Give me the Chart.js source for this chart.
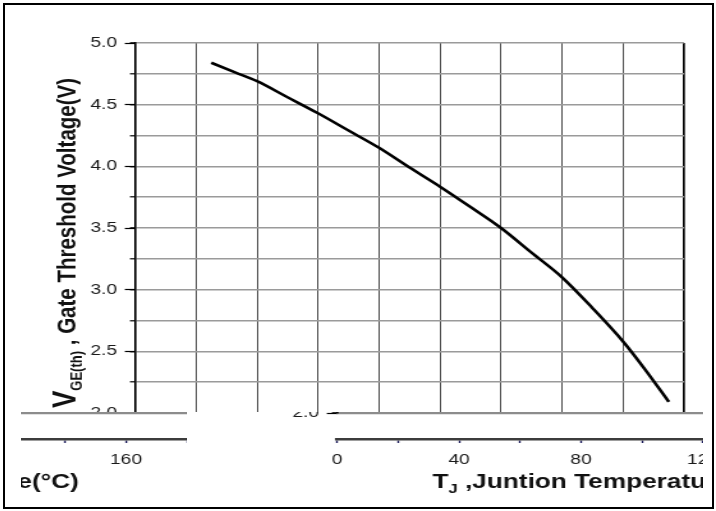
<!DOCTYPE html>
<html>
<head>
<meta charset="utf-8">
<script src="https://cdn.jsdelivr.net/npm/chart.js@4.4.1/dist/chart.umd.min.js"></script>
<style>
  body { margin: 0; background: #fff; width: 716px; height: 511px; overflow: hidden; position: relative; }
  .clip { position: absolute; overflow: hidden; }
  .st { position: absolute; width: 560px; height: 511px; transform: scaleX(1.2786); transform-origin: 0 0; }
  #frame { position: absolute; left: 3px; top: 3px; width: 711px; height: 506px; border: 2px solid #000; box-sizing: border-box; z-index: 5; }
</style>
</head>
<body>
<div class="clip" style="left:0;top:0;width:716px;height:412px">
  <div class="st" style="left:0;top:0"><canvas id="c1" width="560" height="511"></canvas></div>
</div>
<div class="clip" style="left:186px;top:412px;width:517px;height:94px">
  <div class="st" style="left:16px;top:-412px"><canvas id="c2" width="560" height="511"></canvas></div>
</div>
<div class="clip" style="left:21px;top:412px;width:166px;height:94px">
  <div class="st" style="left:-518px;top:-412px"><canvas id="c3" width="560" height="511"></canvas></div>
</div>
<div id="frame"></div>
<script>
// junction temperature (°C) and gate threshold voltage (V)
const tempC = [25, 33, 40, 50, 60, 70, 80, 90, 100, 110, 120, 130, 140, 150, 160, 167, 175];
const vth = [4.84, 4.76, 4.69, 4.56, 4.43, 4.29, 4.15, 3.99, 3.835, 3.67, 3.50, 3.30, 3.10, 2.85, 2.58, 2.36, 2.09];

const xRange = [0, 180];
const yRange = [2.0, 5.0];
const xStep = 20;
const yStep = 0.25;

const FONT = '"Liberation Sans", Arial, sans-serif';
Chart.defaults.font.family = FONT;

// axis titles with subscripts
const titles = {
  id: 'titles',
  afterDraw(chart) {
    const ctx = chart.ctx;
    const area = chart.chartArea;
    const x2 = chart.scales.x2;

    const xp = [['T', 'bold 20.5px ' + FONT, 0], ['J', 'bold 13px ' + FONT, 5], [' ,Juntion Temperature(°C)', 'bold 20.5px ' + FONT, 0]];
    ctx.save();
    ctx.fillStyle = '#111';
    ctx.textBaseline = 'alphabetic';
    let w = 0;
    xp.forEach(p => { ctx.font = p[1]; w += ctx.measureText(p[0]).width; });
    let x = (x2.left + x2.right) / 2 - w / 2 - 5;
    const base = x2.top + 49;
    xp.forEach(p => {
      ctx.font = p[1];
      ctx.fillText(p[0], x, base + p[2]);
      x += ctx.measureText(p[0]).width;
    });
    ctx.restore();

    const yp = [['V', 'bold 26px ' + FONT, 0], ['GE(th)', 'bold 13px ' + FONT, 5], [' , Gate Threshold Voltage(V)', 'bold 20.5px ' + FONT, 0]];
    ctx.save();
    ctx.fillStyle = '#111';
    ctx.translate(58.5, area.bottom - 5);
    ctx.rotate(-Math.PI / 2);
    let t = 0;
    yp.forEach(p => {
      ctx.font = p[1];
      ctx.fillText(p[0], t, p[2]);
      t += ctx.measureText(p[0]).width;
    });
    ctx.restore();
  }
};

function makeChart(id) {
  return new Chart(document.getElementById(id), {
    type: 'line',
    data: {
      datasets: [{
        data: tempC.map((t, i) => ({ x: t, y: vth[i] })),
        borderColor: '#000',
        borderWidth: 2.6,
        pointRadius: 0,
        cubicInterpolationMode: 'monotone',
        xAxisID: 'x',
        yAxisID: 'y'
      }]
    },
    options: {
      responsive: false,
      animation: false,
      devicePixelRatio: 1,
      layout: { padding: { left: 0, top: 43, right: 25, bottom: 0 } },
      plugins: { legend: { display: false }, tooltip: { enabled: false } },
      scales: {
        x: {
          type: 'linear', position: 'bottom', weight: 0,
          min: xRange[0], max: xRange[1],
          ticks: { display: false, stepSize: xStep },
          grid: {
            drawTicks: false,
            color: c => c.tick && c.tick.value === xRange[1] ? '#000' : '#3a3a3a',
            lineWidth: c => c.tick && c.tick.value === xRange[1] ? 1.7 : 0.9
          },
          border: { display: true, color: '#8c8c8c', width: 2.2 },
          afterFit: s => { s.height = 26; }
        },
        x2: {
          type: 'linear', position: 'bottom', weight: 1,
          min: xRange[0], max: xRange[1],
          ticks: {
            stepSize: xStep, autoSkip: false, maxRotation: 0,
            color: '#1a1a1a', font: { size: 15 }, padding: 8,
            callback: v => (v % 40 === 0 ? String(v) : '')
          },
          grid: { drawOnChartArea: false, drawTicks: true, tickLength: 4, tickColor: '#1c1c5a', tickWidth: 1.4 },
          border: { display: true, color: '#3c3c3c', width: 2.5 },
          afterFit: s => { s.height = 72; }
        },
        y: {
          type: 'linear', position: 'left', weight: 0,
          min: yRange[0], max: yRange[1],
          ticks: { display: false, stepSize: yStep },
          grid: { color: '#9a9a9a', lineWidth: 1.6, tickLength: 4, tickColor: '#000', tickWidth: 1.2 },
          border: { display: true, color: '#000', width: 1.7 },
          afterFit: s => { s.width = 0; }
        },
        y2: {
          type: 'linear', position: 'left', weight: 1,
          min: yRange[0], max: yRange[1],
          ticks: {
            stepSize: 0.5, autoSkip: false, color: '#1a1a1a', font: { size: 15 }, padding: 6,
            callback: v => v.toFixed(1)
          },
          grid: { drawOnChartArea: false, tickLength: 8, tickColor: '#000', tickWidth: 1.2 },
          border: { display: false },
          afterFit: s => { s.width = 105.6; }
        }
      }
    },
    plugins: [titles]
  });
}

makeChart('c1');
makeChart('c2');
makeChart('c3');
</script>
</body>
</html>
